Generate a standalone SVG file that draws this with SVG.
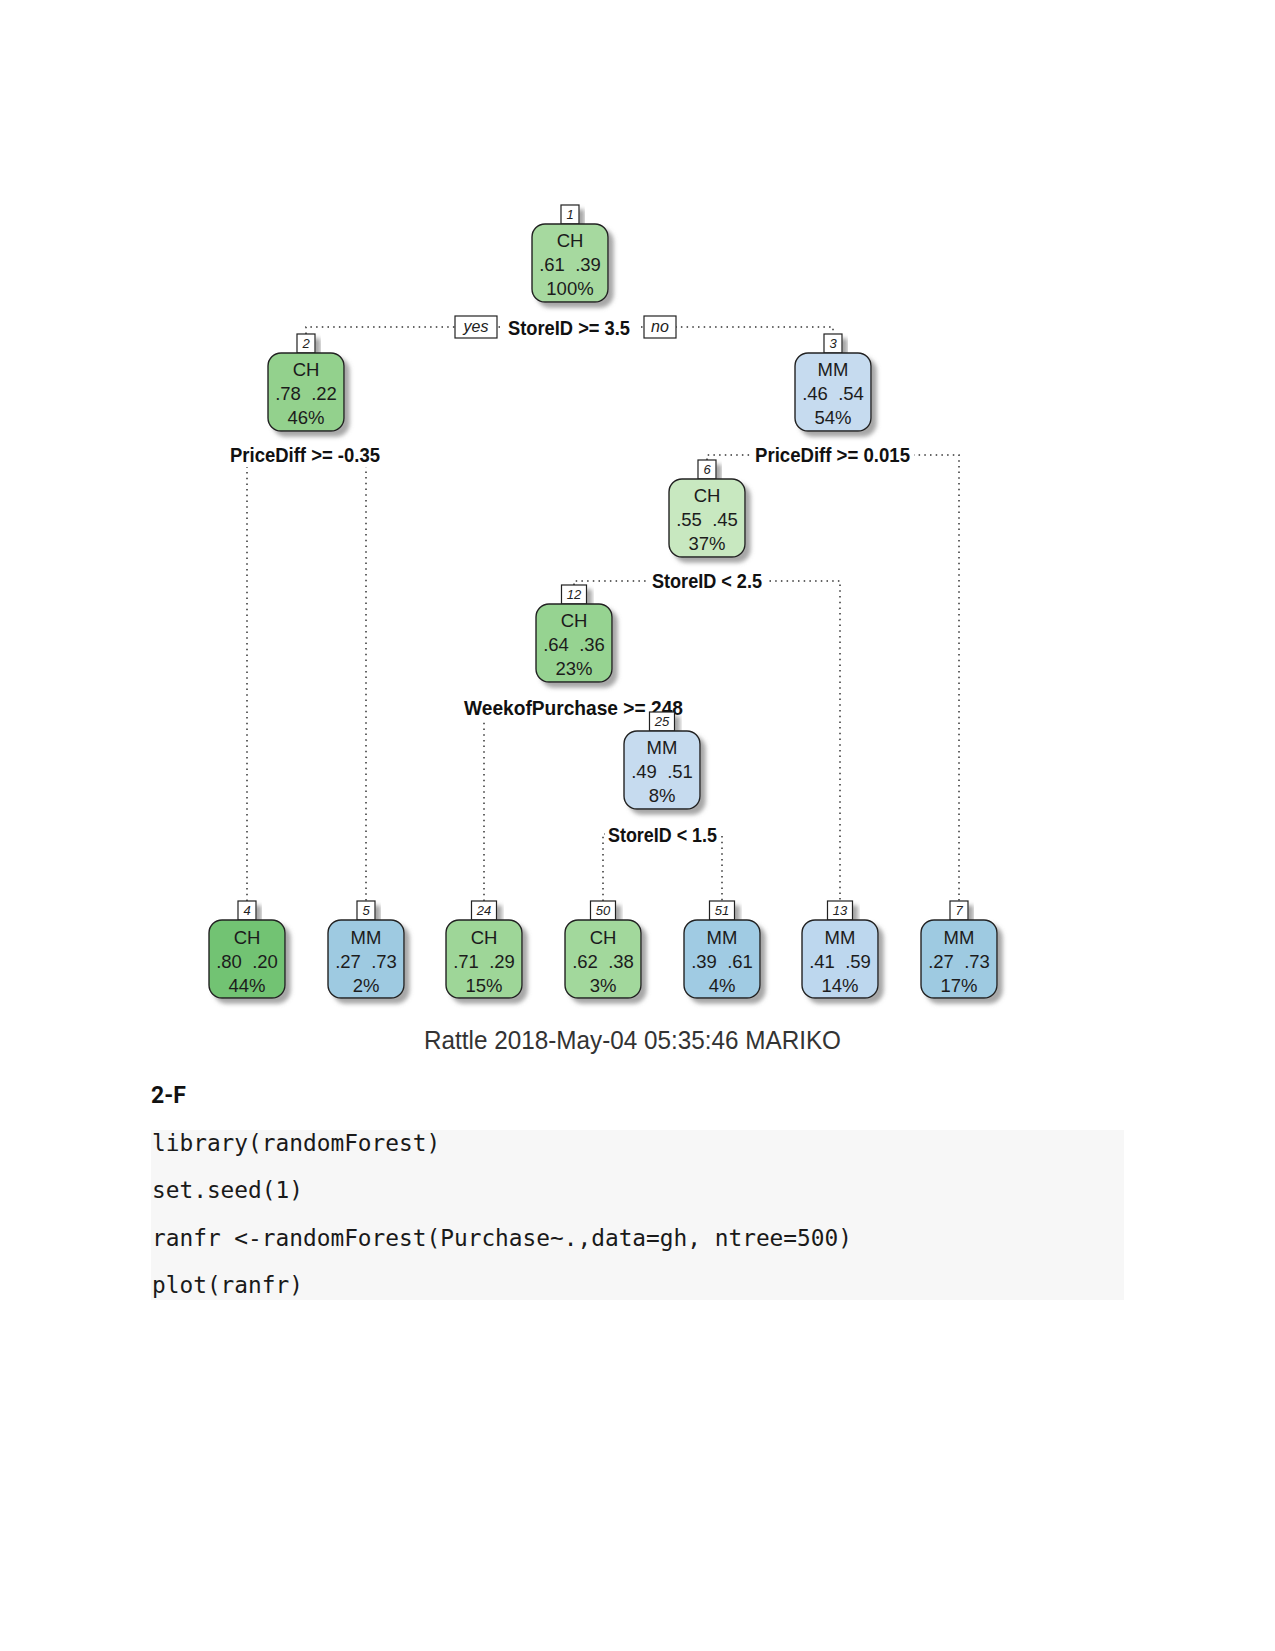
<svg xmlns="http://www.w3.org/2000/svg" width="1275" height="1651" viewBox="0 0 1275 1651">
<style>
.box{stroke:#222;stroke-width:1.4}
.lab{fill:#fff;stroke:#222;stroke-width:1.2}
.t{font-family:"Liberation Sans",Arial,sans-serif;font-size:18.5px;fill:#1c1c1c;text-anchor:middle;white-space:pre}
.num{font-family:"Liberation Sans",Arial,sans-serif;font-style:italic;font-size:13px;fill:#222;text-anchor:middle}
.split{font-family:"Liberation Sans",Arial,sans-serif;font-weight:bold;font-size:20.5px;fill:#111;text-anchor:middle}
.yn{font-family:"Liberation Sans",Arial,sans-serif;font-style:italic;font-size:16px;fill:#222;text-anchor:middle}
.conn{fill:none;stroke:#333;stroke-width:1.5;stroke-dasharray:1.5 4.2}
.code{font-family:"DejaVu Sans Mono",monospace;font-size:22.8px;fill:#1a1a1a;white-space:pre}
</style>
<defs>
<filter id="sh" x="-20%" y="-20%" width="150%" height="150%">
<feDropShadow dx="5" dy="5" stdDeviation="2" flood-color="#777" flood-opacity="0.65"/>
</filter>
</defs>
<rect width="1275" height="1651" fill="#fff"/>

<g id="connectors">
<path class="conn" d="M306,334 V327 H833 V334"/>
<path class="conn" d="M247,901 V455 H366 V901"/>
<path class="conn" d="M707,460 V455 H959 V901"/>
<path class="conn" d="M574,585 V581 H840 V901"/>
<path class="conn" d="M484,901 V708 H662 V712"/>
<path class="conn" d="M603,901 V834 H722 V901"/>
</g>

<g id="split-labels">
<rect x="500" y="317" width="138" height="23" fill="#fff"/>
<text class="split" x="569" y="335" textLength="122" lengthAdjust="spacingAndGlyphs">StoreID &gt;= 3.5</text>
<g id="yes"><rect class="lab" x="455" y="316" width="42" height="22"/><text class="yn" x="476" y="332">yes</text></g>
<g id="no"><rect class="lab" x="644" y="316" width="32" height="22"/><text class="yn" x="660" y="332">no</text></g>
<rect x="226" y="445" width="158" height="22" fill="#fff"/>
<text class="split" x="305" y="462" textLength="150" lengthAdjust="spacingAndGlyphs">PriceDiff &gt;= -0.35</text>
<rect x="751" y="445" width="163" height="22" fill="#fff"/>
<text class="split" x="832.5" y="462" textLength="155" lengthAdjust="spacingAndGlyphs">PriceDiff &gt;= 0.015</text>
<rect x="647" y="571" width="120" height="22" fill="#fff"/>
<text class="split" x="707" y="588" textLength="110" lengthAdjust="spacingAndGlyphs">StoreID &lt; 2.5</text>
<rect x="460" y="698" width="227" height="22" fill="#fff"/>
<text class="split" x="573.5" y="715" textLength="219" lengthAdjust="spacingAndGlyphs">WeekofPurchase &gt;= 248</text>
<rect x="605" y="825" width="115" height="22" fill="#fff"/>
<text class="split" x="662.5" y="842" textLength="109" lengthAdjust="spacingAndGlyphs">StoreID &lt; 1.5</text>
</g>

<g id="node1">
<rect class="lab" x="561" y="205" width="18" height="19" filter="url(#sh)"/><text class="num" x="570" y="219">1</text>
<rect class="box" x="532" y="224" width="76" height="78" rx="13" fill="#a6d99f" filter="url(#sh)"/>
<text class="t" x="570" y="247">CH</text><text class="t" x="570" y="270.5">.61  .39</text><text class="t" x="570" y="295">100%</text>
</g>
<g id="node2">
<rect class="lab" x="297" y="334" width="18" height="19" filter="url(#sh)"/><text class="num" x="306" y="348">2</text>
<rect class="box" x="268" y="353" width="76" height="78" rx="13" fill="#93d18d" filter="url(#sh)"/>
<text class="t" x="306" y="376">CH</text><text class="t" x="306" y="399.5">.78  .22</text><text class="t" x="306" y="424">46%</text>
</g>
<g id="node3">
<rect class="lab" x="824" y="334" width="18" height="19" filter="url(#sh)"/><text class="num" x="833" y="348">3</text>
<rect class="box" x="795" y="353" width="76" height="78" rx="13" fill="#c6dbef" filter="url(#sh)"/>
<text class="t" x="833" y="376">MM</text><text class="t" x="833" y="399.5">.46  .54</text><text class="t" x="833" y="424">54%</text>
</g>
<g id="node6">
<rect class="lab" x="698" y="460" width="18" height="19" filter="url(#sh)"/><text class="num" x="707" y="474">6</text>
<rect class="box" x="669" y="479" width="76" height="78" rx="13" fill="#c8e8c0" filter="url(#sh)"/>
<text class="t" x="707" y="502">CH</text><text class="t" x="707" y="525.5">.55  .45</text><text class="t" x="707" y="550">37%</text>
</g>
<g id="node12">
<rect class="lab" x="561.5" y="585" width="25" height="19" filter="url(#sh)"/><text class="num" x="574" y="599">12</text>
<rect class="box" x="536" y="604" width="76" height="78" rx="13" fill="#96d391" filter="url(#sh)"/>
<text class="t" x="574" y="627">CH</text><text class="t" x="574" y="650.5">.64  .36</text><text class="t" x="574" y="675">23%</text>
</g>
<g id="node25">
<rect class="lab" x="649.5" y="712" width="25" height="19" filter="url(#sh)"/><text class="num" x="662" y="726">25</text>
<rect class="box" x="624" y="731" width="76" height="78" rx="13" fill="#c6dbef" filter="url(#sh)"/>
<text class="t" x="662" y="754">MM</text><text class="t" x="662" y="777.5">.49  .51</text><text class="t" x="662" y="802">8%</text>
</g>
<g id="node4">
<rect class="lab" x="238" y="901" width="18" height="19" filter="url(#sh)"/><text class="num" x="247" y="915">4</text>
<rect class="box" x="209" y="920" width="76" height="78" rx="13" fill="#72c373" filter="url(#sh)"/>
<text class="t" x="247" y="943.5">CH</text><text class="t" x="247" y="967.5">.80  .20</text><text class="t" x="247" y="992">44%</text>
</g>
<g id="node5">
<rect class="lab" x="357" y="901" width="18" height="19" filter="url(#sh)"/><text class="num" x="366" y="915">5</text>
<rect class="box" x="328" y="920" width="76" height="78" rx="13" fill="#9ecae1" filter="url(#sh)"/>
<text class="t" x="366" y="943.5">MM</text><text class="t" x="366" y="967.5">.27  .73</text><text class="t" x="366" y="992">2%</text>
</g>
<g id="node24">
<rect class="lab" x="471.5" y="901" width="25" height="19" filter="url(#sh)"/><text class="num" x="484" y="915">24</text>
<rect class="box" x="446" y="920" width="76" height="78" rx="13" fill="#9ed698" filter="url(#sh)"/>
<text class="t" x="484" y="943.5">CH</text><text class="t" x="484" y="967.5">.71  .29</text><text class="t" x="484" y="992">15%</text>
</g>
<g id="node50">
<rect class="lab" x="590.5" y="901" width="25" height="19" filter="url(#sh)"/><text class="num" x="603" y="915">50</text>
<rect class="box" x="565" y="920" width="76" height="78" rx="13" fill="#a2d89c" filter="url(#sh)"/>
<text class="t" x="603" y="943.5">CH</text><text class="t" x="603" y="967.5">.62  .38</text><text class="t" x="603" y="992">3%</text>
</g>
<g id="node51">
<rect class="lab" x="709.5" y="901" width="25" height="19" filter="url(#sh)"/><text class="num" x="722" y="915">51</text>
<rect class="box" x="684" y="920" width="76" height="78" rx="13" fill="#a0cbe3" filter="url(#sh)"/>
<text class="t" x="722" y="943.5">MM</text><text class="t" x="722" y="967.5">.39  .61</text><text class="t" x="722" y="992">4%</text>
</g>
<g id="node13">
<rect class="lab" x="827.5" y="901" width="25" height="19" filter="url(#sh)"/><text class="num" x="840" y="915">13</text>
<rect class="box" x="802" y="920" width="76" height="78" rx="13" fill="#bdd7ee" filter="url(#sh)"/>
<text class="t" x="840" y="943.5">MM</text><text class="t" x="840" y="967.5">.41  .59</text><text class="t" x="840" y="992">14%</text>
</g>
<g id="node7">
<rect class="lab" x="950" y="901" width="18" height="19" filter="url(#sh)"/><text class="num" x="959" y="915">7</text>
<rect class="box" x="921" y="920" width="76" height="78" rx="13" fill="#9ecae1" filter="url(#sh)"/>
<text class="t" x="959" y="943.5">MM</text><text class="t" x="959" y="967.5">.27  .73</text><text class="t" x="959" y="992">17%</text>
</g>

<text x="632.5" y="1049" font-family="Liberation Sans, Arial, sans-serif" font-size="26" fill="#333" text-anchor="middle" textLength="417" lengthAdjust="spacingAndGlyphs">Rattle 2018-May-04 05:35:46 MARIKO</text>

<text x="151" y="1103" font-family="Roboto, 'Noto Sans', sans-serif" font-weight="bold" font-size="23" fill="#111">2-F</text>
<rect x="151" y="1130" width="973" height="170" fill="#f7f7f7"/>
<text class="code" x="152" y="1151">library(randomForest)</text>
<text class="code" x="152" y="1198">set.seed(1)</text>
<text class="code" x="152" y="1246">ranfr &lt;-randomForest(Purchase~.,data=gh, ntree=500)</text>
<text class="code" x="152" y="1293">plot(ranfr)</text>
</svg>
